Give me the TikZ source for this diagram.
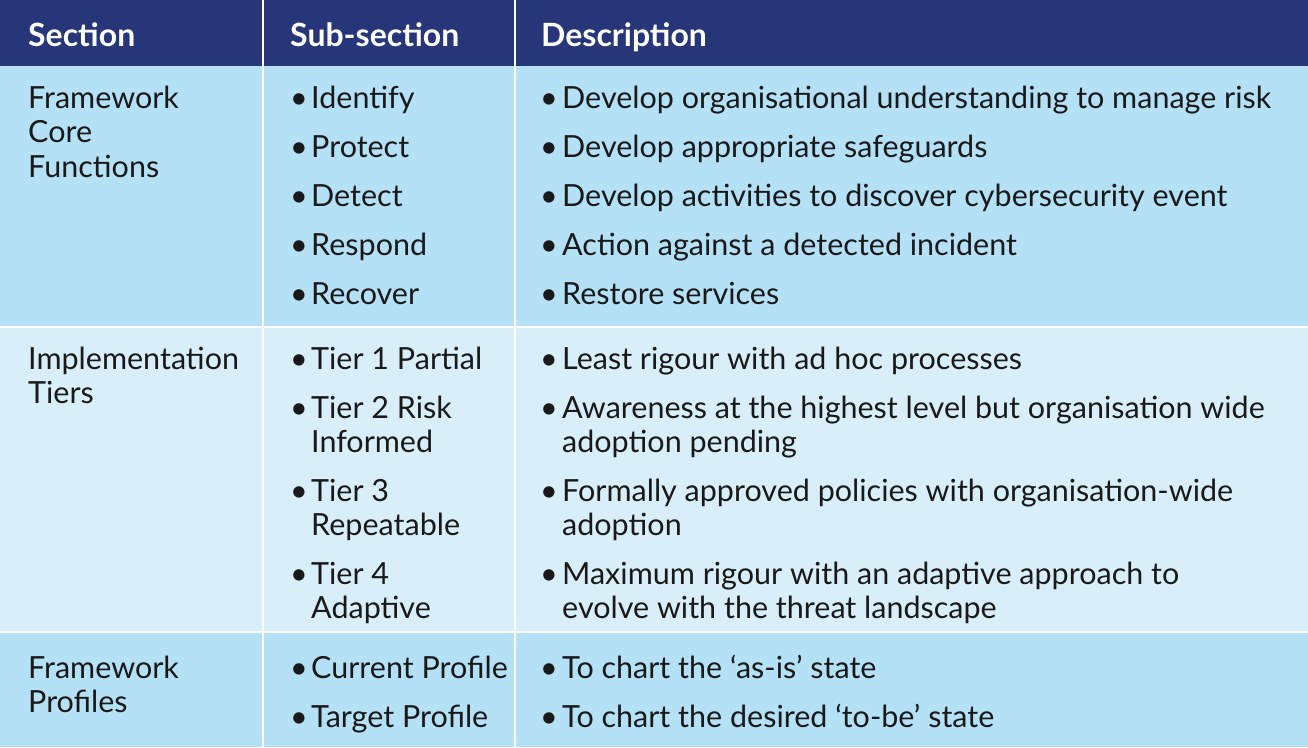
\documentclass[tikz,border=0pt]{standalone}
\usepackage{fontspec}
\setmainfont{Lato}
\definecolor{headblue}{HTML}{263679}
\definecolor{rowblue}{HTML}{B4E1F6}
\definecolor{rowpale}{HTML}{D8EFFA}
\begin{document}
\begin{tikzpicture}[x=1pt,y=-1pt]
  \tikzset{
    cell/.style={anchor=base west,inner sep=0pt,font=\fontsize{30.5}{34}\selectfont,text=black!90},
    headtext/.style={cell,text=white,font=\fontsize{32}{34}\selectfont\bfseries},
    bullet/.style={cell}
  }
  \useasboundingbox (0,0) rectangle (1308,747);
  % row backgrounds
  \fill[headblue] (0,0) rectangle (1308,66);
  \fill[rowblue] (0,66) rectangle (1308,327);
  \fill[rowpale] (0,327) rectangle (1308,632);
  \fill[rowblue] (0,632) rectangle (1308,747);
  % white grid lines
  \draw[white,line width=1.5pt] (263,0) -- (263,747);
  \draw[white,line width=1.5pt] (515,0) -- (515,747);
  \draw[white,line width=1.5pt] (0,327) -- (1308,327);
  \draw[white,line width=1.5pt] (0,632) -- (1308,632);
  % header
  \node[headtext] (hsec) at (28,46) {Section};
  \node[headtext] (hsub) at (290,46) {Sub-section};
  \node[headtext] (hdesc) at (541,46) {Description};
  % section names
  \foreach \n / \y / \t in
  {
    s1 / 108 / Framework,
    s2 / 142 / Core,
    s3 / 177 / Functions,
    s4 / 369 / Implementation,
    s5 / 403 / Tiers,
    s6 / 678 / Framework,
    s7 / 712 / Profiles
  } {
    \node[cell] (\n) at (28,\y) {\t};
  }
  % sub-sections: b = bullet shown
  \foreach \n / \y / \b / \t in
  {
    u1 / 108 / 1 / Identify,
    u2 / 157 / 1 / Protect,
    u3 / 206 / 1 / Detect,
    u4 / 255 / 1 / Respond,
    u5 / 304 / 1 / Recover,
    u6 / 369 / 1 / Tier 1 Partial,
    u7 / 418 / 1 / Tier 2 Risk,
    u8 / 452 / 0 / Informed,
    u9 / 501 / 1 / Tier 3,
    u10 / 535 / 0 / Repeatable,
    u11 / 584 / 1 / Tier 4,
    u12 / 618 / 0 / Adaptive,
    u13 / 678 / 1 / Current Profile,
    u14 / 727 / 1 / Target Profile
  } {
    \node[cell] (\n) at (311,\y) {\t};
    \ifnum\b=1 \node[bullet] at (290,\y) {•}; \fi
  }
  % descriptions
  \foreach \n / \y / \b / \t in
  {
    d1 / 108 / 1 / Develop organisational understanding to manage risk,
    d2 / 157 / 1 / Develop appropriate safeguards,
    d3 / 206 / 1 / Develop activities to discover cybersecurity event,
    d4 / 255 / 1 / Action against a detected incident,
    d5 / 304 / 1 / Restore services,
    d6 / 369 / 1 / Least rigour with ad hoc processes,
    d7 / 418 / 1 / Awareness at the highest level but organisation wide,
    d8 / 452 / 0 / adoption pending,
    d9 / 501 / 1 / Formally approved policies with organisation-wide,
    d10 / 535 / 0 / adoption,
    d11 / 584 / 1 / Maximum rigour with an adaptive approach to,
    d12 / 618 / 0 / evolve with the threat landscape,
    d13 / 678 / 1 / To chart the ‘as-is’ state,
    d14 / 727 / 1 / To chart the desired ‘to-be’ state
  } {
    \node[cell] (\n) at (562,\y) {\t};
    \ifnum\b=1 \node[bullet] at (540,\y) {•}; \fi
  }
\end{tikzpicture}
\end{document}
